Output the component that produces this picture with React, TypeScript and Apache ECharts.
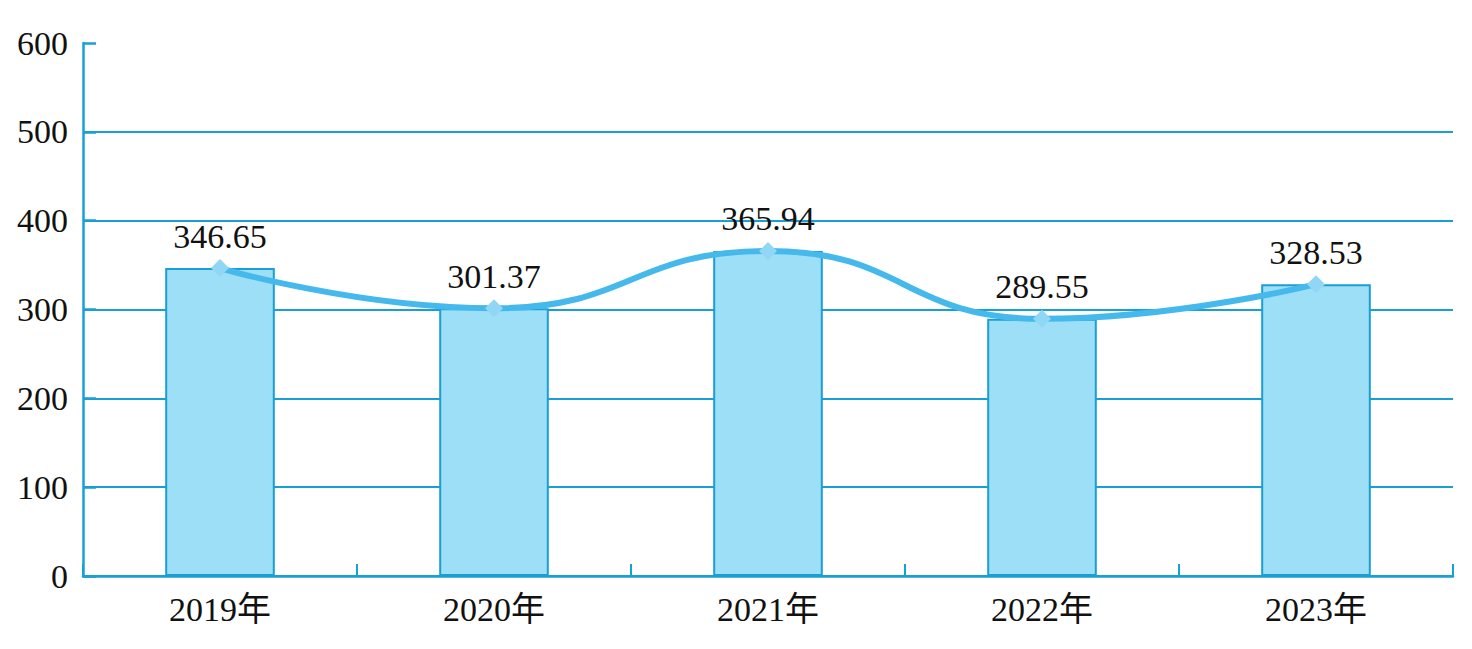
import React, { useEffect, useRef } from "react";
import * as echarts from "echarts";

const categories = ["2019年", "2020年", "2021年", "2022年", "2023年"];
const values = [346.65, 301.37, 365.94, 289.55, 328.53];
const yTicks = [0, 100, 200, 300, 400, 500, 600];

const AXIS = "#1a9fd5";
const FONT = "'Liberation Serif', 'Times New Roman', 'Noto Sans CJK SC', serif";

export default function App() {
  const ref = useRef<HTMLDivElement>(null);
  useEffect(() => {
    const chart = echarts.init(ref.current!, null, { renderer: "svg" });
    chart.setOption({
      animation: false,
      backgroundColor: "#ffffff",
      grid: { left: 83, right: 19, top: 43, bottom: 73, containLabel: false },
      xAxis: {
        type: "category",
        data: categories,
        boundaryGap: true,
        axisLine: { show: true, lineStyle: { color: AXIS, width: 2.5 } },
        axisTick: { show: true, inside: true, length: 12, lineStyle: { color: AXIS, width: 2 } },
        axisLabel: { color: "#111", fontSize: 34, fontFamily: FONT, margin: 16 },
        splitLine: { show: false },
      },
      yAxis: {
        type: "value",
        min: yTicks[0],
        max: yTicks[yTicks.length - 1],
        interval: 100,
        axisLine: { show: true, lineStyle: { color: AXIS, width: 2.5 } },
        axisTick: { show: true, inside: true, length: 13, lineStyle: { color: AXIS, width: 2.5 } },
        axisLabel: { color: "#111", fontSize: 34, fontFamily: FONT, margin: 15 },
        splitLine: {
          show: true,
          lineStyle: { color: AXIS, width: 2 },
          showMaxLine: false,
        },
      },
      series: [
        {
          type: "bar",
          data: values,
          barWidth: "40%",
          itemStyle: { color: "#9ddff7", borderColor: AXIS, borderWidth: 2 },
          z: 2,
        },
        {
          type: "line",
          data: values,
          smooth: 0.5,
          symbol: "diamond",
          symbolSize: [18, 18],
          itemStyle: { color: "#8fd7f5" },
          lineStyle: { color: "#45b9ec", width: 6 },
          label: {
            show: true,
            position: "top",
            distance: 6,
            color: "#111",
            fontSize: 34,
            fontFamily: FONT,
            formatter: (p: any) => p.value.toFixed(2),
          },
          z: 3,
        },
      ],
    });
    return () => chart.dispose();
  }, []);
  return <div ref={ref} style={{ position: "fixed", left: 0, top: 0, width: 1472, height: 649 }} />;
}
